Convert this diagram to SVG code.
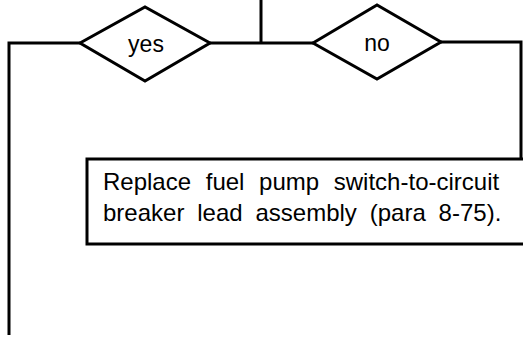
<svg xmlns="http://www.w3.org/2000/svg" width="523" height="337" viewBox="0 0 523 337">
<style>
.ln{fill:none;stroke:#000;stroke-width:3;stroke-linejoin:miter}
.sh{fill:#fff;stroke:#000;stroke-width:3}
.box{fill:#fff;stroke:#000;stroke-width:3}
.t{font-family:"Liberation Sans",Arial,sans-serif;fill:#000}
</style>
<rect width="523" height="337" fill="#fff"/>
<g id="connectors">
<path class="ln" d="M261,0 V43"/>
<path class="ln" d="M210,43 H313"/>
<path class="ln" d="M80,43 H9 V335"/>
<path class="ln" d="M441,42 H521 V159"/>
</g>
<g id="yes">
<polygon class="sh" points="80,43 145,7 210,43 145,81"/>
<text class="t" x="146" y="52" font-size="23" text-anchor="middle">yes</text>
</g>
<g id="no">
<polygon class="sh" points="313,43 377,5 441,42 377,79"/>
<text class="t" x="377" y="51" font-size="23" text-anchor="middle">no</text>
</g>
<g id="action">
<rect class="box" x="87" y="159" width="445" height="85"/>
<text class="t" x="103" y="190" font-size="24" word-spacing="8">Replace fuel pump switch-to-circuit</text>
<text class="t" x="103" y="221" font-size="24" word-spacing="6.2">breaker lead assembly (para 8-75).</text>
</g>
</svg>
